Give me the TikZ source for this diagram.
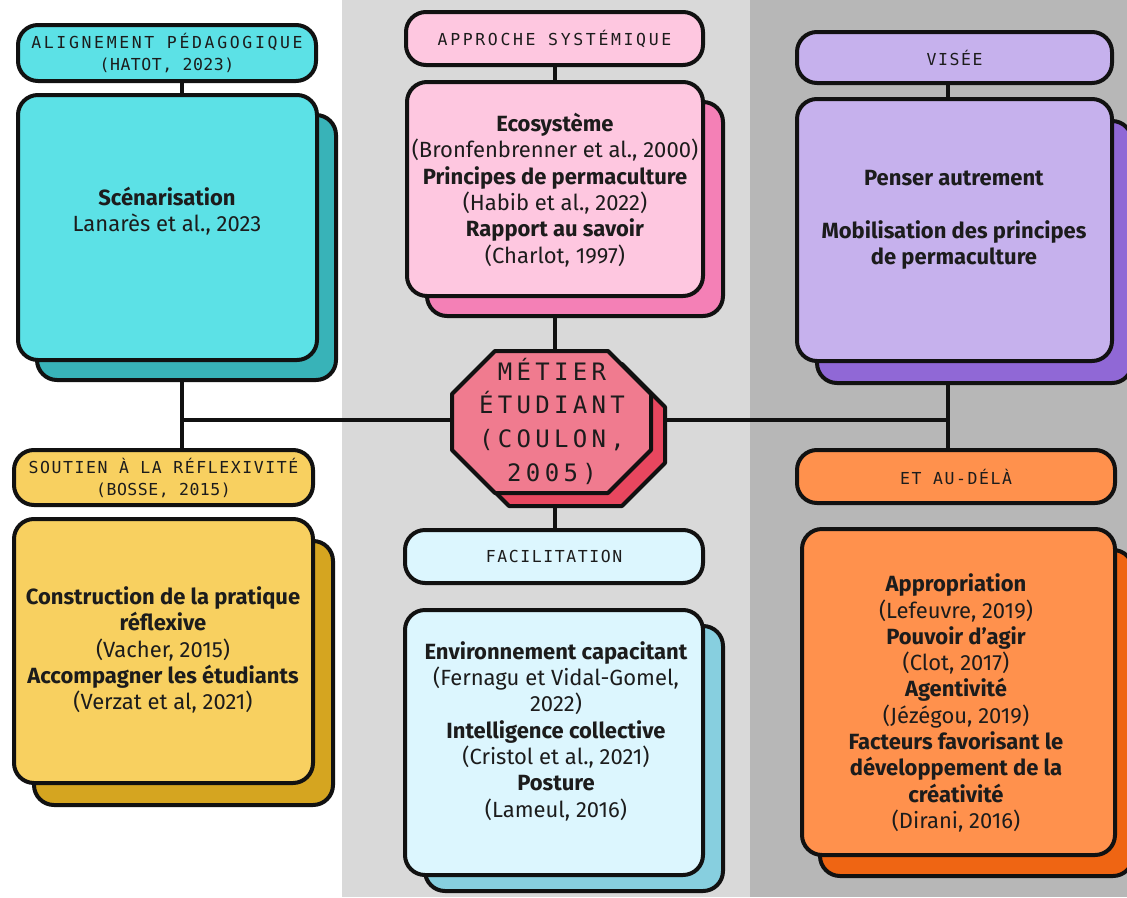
\documentclass[tikz,border=0pt]{standalone}
\usepackage{fontspec}
\setmainfont{Fira Sans}
\newfontfamily\hdA[LetterSpace=16]{DejaVu Sans Mono}
\newfontfamily\hdB[LetterSpace=9.5]{DejaVu Sans Mono}
\newfontfamily\hdC[LetterSpace=3]{DejaVu Sans Mono}
\newfontfamily\corefont[LetterSpace=18]{DejaVu Sans Mono}
\usetikzlibrary{calc}
\pgfdeclarelayer{back}
\pgfdeclarelayer{lines}
\pgfdeclarelayer{shade}
\pgfsetlayers{back,lines,shade,main}
\definecolor{ink}{HTML}{111111}
\definecolor{txt}{HTML}{1C1C1C}
\definecolor{bgM}{HTML}{D9D9D9}
\definecolor{bgR}{HTML}{B7B7B7}
\definecolor{cyanF}{HTML}{5CE1E6}
\definecolor{cyanS}{HTML}{38B3B8}
\definecolor{pinkF}{HTML}{FEC7E0}
\definecolor{pinkS}{HTML}{F480B6}
\definecolor{purpF}{HTML}{C6B1ED}
\definecolor{purpS}{HTML}{9068D6}
\definecolor{octF}{HTML}{F07B8F}
\definecolor{octS}{HTML}{E8475F}
\definecolor{yelF}{HTML}{F8D060}
\definecolor{yelS}{HTML}{D5A520}
\definecolor{lbF}{HTML}{DCF6FE}
\definecolor{lbS}{HTML}{87CFDF}
\definecolor{orF}{HTML}{FF914D}
\definecolor{orS}{HTML}{EF6513}
\newcommand{\hsz}{\fontsize{16.5}{22}\selectfont}
\tikzset{
  edge/.style={draw=ink, line width=4pt},
  hdbox/.style={draw=ink, line width=4pt, rounded corners=20pt, inner sep=0pt, outer sep=0pt,
    font=\hdA\hsz, align=center, text=txt},
  mainbox/.style={draw=ink, line width=4pt, rounded corners=20pt, inner sep=0pt, outer sep=0pt},
  shadowbox/.style={draw=ink, line width=4pt, rounded corners=20pt},
  body/.style={align=center, font=\fontsize{22}{26.3}\selectfont, text=txt, inner sep=0pt},
  coretext/.style={align=center, font=\corefont\fontsize{24}{33.7}\selectfont, text=txt, inner sep=0pt},
}
\begin{document}
\begin{tikzpicture}[x=1pt,y=-1pt]
\useasboundingbox (0,0) rectangle (1127,897);
\begin{pgfonlayer}{back}
\fill[white] (0,0) rectangle (1127,897);
\fill[bgM] (342,0) rectangle (750,897);
\fill[bgR] (750,0) rectangle (1127,897);
\end{pgfonlayer}

% left column
\node[hdbox, fill=cyanF, minimum width=298pt, minimum height=56pt] (h1) at (167,53)
  {ALIGNEMENT PÉDAGOGIQUE\\{\hdC\hsz (HATOT, 2023)}};
\node[mainbox, fill=cyanF, minimum width=299pt, minimum height=265pt] (b1) at (167.5,227.5) {};
\node[body] (t1) at (167,211) {\textbf{Scénarisation}\\Lanarès et al., 2023};

\node[hdbox, fill=yelF, minimum width=299pt, minimum height=55pt] (h2) at (163.5,477.5)
  {{\hdB\hsz SOUTIEN À LA RÉFLEXIVITÉ}\\{\hdC\hsz (BOSSE, 2015)}};
\node[mainbox, fill=yelF, minimum width=299pt, minimum height=264pt] (b2) at (163.5,651) {};
\node[body] (t2) at (163,650) {\textbf{Construction de la pratique}\\\textbf{réflexive}\\(Vacher, 2015)\\\textbf{Accompagner les étudiants}\\(Verzat et al, 2021)};

% middle column
\node[hdbox, fill=pinkF, minimum width=297pt, minimum height=53pt] (h3) at (554.5,38.5)
  {APPROCHE SYSTÉMIQUE};
\node[mainbox, fill=pinkF, minimum width=296pt, minimum height=214pt] (b3) at (555,189) {};
\node[body] (t3) at (555,190) {\textbf{Ecosystème}\\(Bronfenbrenner et al., 2000)\\\textbf{Principes de permaculture}\\(Habib et al., 2022)\\\textbf{Rapport au savoir}\\(Charlot, 1997)};

\node[hdbox, fill=lbF, minimum width=298pt, minimum height=53pt, font=\hdB\hsz] (h4) at (554,556.5)
  {FACILITATION};
\node[mainbox, fill=lbF, minimum width=298pt, minimum height=265pt] (b4) at (554,742.5) {};
\node[body] (t4) at (556,731) {\textbf{Environnement capacitant}\\(Fernagu et Vidal-Gomel,\\2022)\\\textbf{Intelligence collective}\\(Cristol et al., 2021)\\\textbf{Posture}\\(Lameul, 2016)};

% right column
\node[hdbox, fill=purpF, minimum width=315pt, minimum height=51pt, font=\hdB\hsz] (h5) at (954.5,57.5)
  {VISÉE};
\node[mainbox, fill=purpF, minimum width=315pt, minimum height=262pt] (b5) at (954.5,230) {};
\node[body] (t5) at (954,220) {\textbf{Penser autrement}\\[26.3pt]\textbf{Mobilisation des principes}\\\textbf{de permaculture}};

\node[hdbox, fill=orF, minimum width=318pt, minimum height=53pt, font=\hdB\hsz] (h6) at (956,476.5)
  {ET AU-DÉLÀ};
\node[mainbox, fill=orF, minimum width=313pt, minimum height=326pt] (b6) at (958.5,692) {};
\node[body] (t6) at (956,703) {\textbf{Appropriation}\\(Lefeuvre, 2019)\\\textbf{Pouvoir d’agir}\\(Clot, 2017)\\\textbf{Agentivité}\\(Jézégou, 2019)\\\textbf{Facteurs favorisant le}\\\textbf{développement de la}\\\textbf{créativité}\\(Dirani, 2016)};

% centre octagon
\begin{pgfonlayer}{shade}
\fill[octS, draw=ink, line width=4pt, line join=round, shift={(14,13)}]
  (495,351) -- (608,351) -- (651,394) -- (651,450) -- (608,493) -- (495,493) -- (452,450) -- (452,394) -- cycle;
\end{pgfonlayer}
\fill[octF, draw=ink, line width=4pt, line join=round]
  (495,351) -- (608,351) -- (651,394) -- (651,450) -- (608,493) -- (495,493) -- (452,450) -- (452,394) -- cycle;
\node[coretext] (core) at (552,421) {MÉTIER\\ÉTUDIANT\\(COULON,\\2005)};

% shadows
\begin{pgfonlayer}{shade}
\draw[shadowbox, fill=cyanS] ([shift={(19,20)}]b1.north west) rectangle ([shift={(19,20)}]b1.south east);
\draw[shadowbox, fill=yelS] ([shift={(20,22)}]b2.north west) rectangle ([shift={(20,22)}]b2.south east);
\draw[shadowbox, fill=pinkS] ([shift={(20,20)}]b3.north west) rectangle ([shift={(20,20)}]b3.south east);
\draw[shadowbox, fill=lbS] ([shift={(20,16)}]b4.north west) rectangle ([shift={(20,16)}]b4.south east);
\draw[shadowbox, fill=purpS] ([shift={(20,22)}]b5.north west) rectangle ([shift={(20,22)}]b5.south east);
\draw[shadowbox, fill=orS] ([shift={(18,21)}]b6.north west) rectangle ([shift={(18,21)}]b6.south east);
\end{pgfonlayer}

% connectors
\coordinate (jl) at (182,420);
\coordinate (jm) at (555,420);
\coordinate (jr) at (948,420);
\begin{pgfonlayer}{lines}
\draw[edge] (h1.south -| jl) -- (h2.north -| jl);
\draw[edge] (h3.south -| jm) -- (h4.north -| jm);
\draw[edge] (h5.south -| jr) -- (h6.north -| jr);
\draw[edge] (jl) -- (jr);
\end{pgfonlayer}
\end{tikzpicture}
\end{document}
